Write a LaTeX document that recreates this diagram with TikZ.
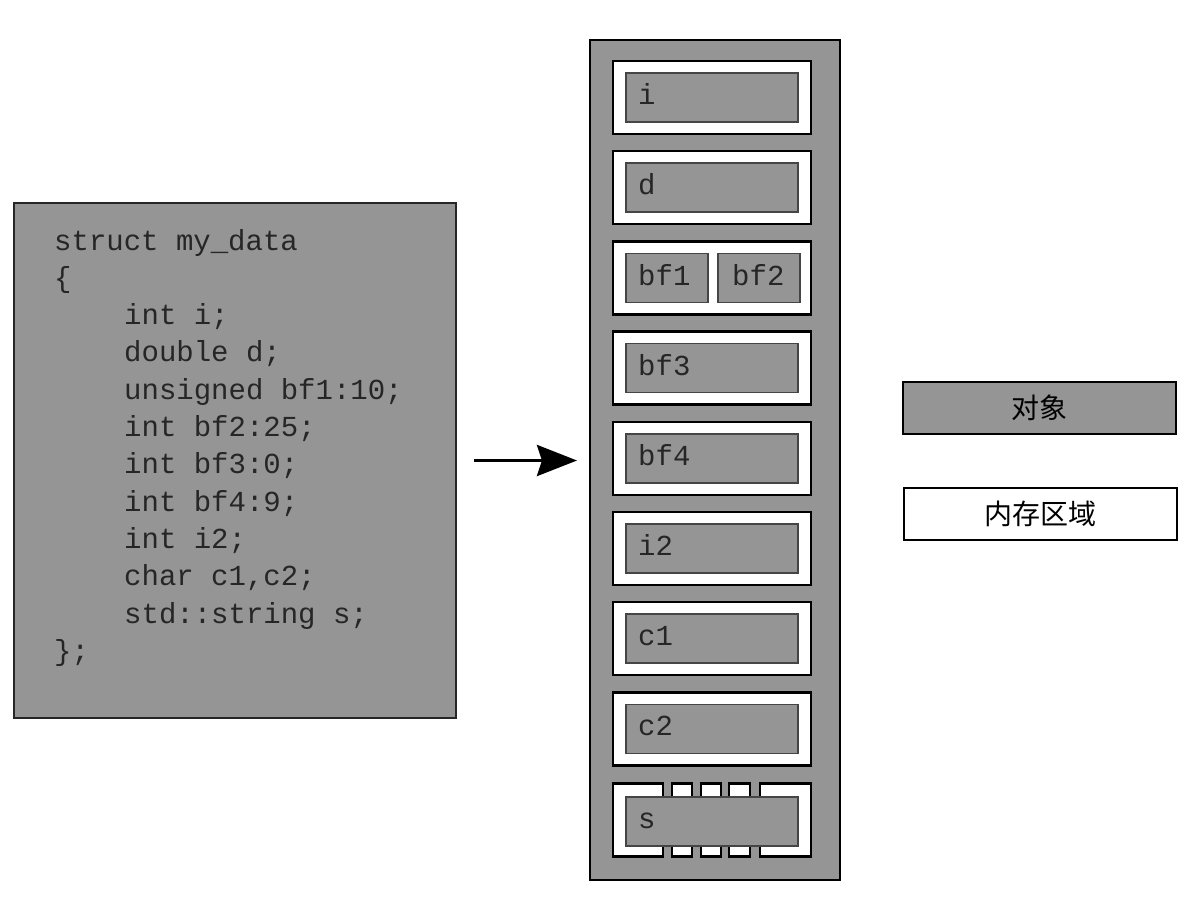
\documentclass[tikz,border=0pt]{standalone}
\usepackage{fontspec}
\setmonofont{Liberation Mono}
\newfontfamily\cjkfont{Noto Sans CJK SC}
\usetikzlibrary{arrows.meta}
\definecolor{obj}{HTML}{959595}
\definecolor{objedge}{HTML}{454545}
\tikzset{
  codebox/.style={draw=black!85,line width=2pt,fill=obj,minimum width=442pt,minimum height=515pt,inner sep=0pt},
  column/.style={draw=black,line width=2pt,fill=obj,minimum width=250pt,minimum height=840pt,inner sep=0pt},
  slot/.style={draw=black,line width=2.5pt,fill=white,minimum width=198pt,minimum height=73pt,inner sep=0pt},
  field/.style={draw=objedge,line width=1.5pt,fill=obj,minimum height=49pt,inner sep=0pt},
  codetxt/.style={anchor=base west,inner sep=0pt,text=black!85,font=\ttfamily\fontsize{29}{35}\selectfont},
  legend/.style={draw=black,line width=2pt,minimum width=273pt,minimum height=52pt,font=\cjkfont\fontsize{28}{32}\selectfont},
}
\begin{document}
\begin{tikzpicture}[x=1pt,y=-1pt]
  \useasboundingbox[fill=white] (0,0) rectangle (1197,919);
  % codul structurii
  \node[codebox] (code) at (235,460.5) {};
  \foreach \dx/\t [count=\k from 0] in {0/struct my\_data,0/\{,70/int i;,70/double d;,
      70/unsigned bf1:10;,70/int bf2:25;,70/int bf3:0;,70/int bf4:9;,70/int i2;,
      70/{char c1,c2;},70/std::string s;,0/\};}
    \node[codetxt] (line\k) at (54+\dx,250+37.3*\k) {\t};

  % memoria
  \node[column] (mem) at (715,460) {};
  \foreach \k/\f in {0/i,1/d,3/bf3,4/bf4,5/i2,6/c1,7/c2} {
    \node[slot] (slot-\f) at (712,97.5+90.2*\k) {};
    \node[field,minimum width=172pt] (fld-\f) at (slot-\f) {};
    \node[codetxt] (lbl-\f) at (638,104.5+90.2*\k) {\f};
  }
  % campuri de biti
  \node[slot] (slot-bf) at (712,278) {};
  \node[field,minimum width=82pt] (fld-bf1) at (667,278) {};
  \node[field,minimum width=82pt] (fld-bf2) at (759,278) {};
  \node[codetxt] (lbl-bf1) at (638,285) {bf1};
  \node[codetxt] (lbl-bf2) at (732,285) {bf2};
  % sirul s
  \foreach \cx/\w [count=\j] in {638/50,682/20,711/20,739.5/21,785.5/51}
    \node[slot,minimum width=\w*1pt] (s-\j) at (\cx,820) {};
  \node[field,minimum width=172pt] (fld-s) at (712,821.5) {};
  \node[codetxt] (lbl-s) at (638,828.5) {s};

  % sageata
  \draw[line width=3.5pt,-{Stealth[length=40pt,width=31pt,inset=5pt]},shorten <=17pt,shorten >=12pt]
    (code.east) -- (code.east -| mem.west);

  % legenda
  \node[legend,fill=obj] (obj) at (1039,408) {对象};
  \node[legend,fill=white] (area) at (1040,514) {内存区域};
\end{tikzpicture}
\end{document}
